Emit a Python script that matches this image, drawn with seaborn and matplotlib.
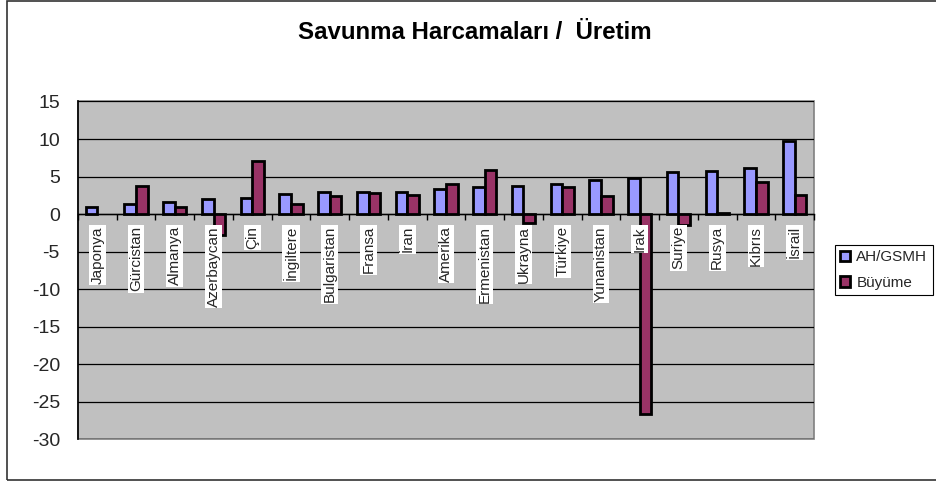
import numpy as np
import pandas as pd
import matplotlib
matplotlib.use("Agg")
import matplotlib.pyplot as plt
import seaborn as sns
from matplotlib.patches import Rectangle
from matplotlib.transforms import offset_copy

countries = ["Japonya", "Gürcistan", "Almanya", "Azerbaycan", "Çin", "İngiltere",
             "Bulgaristan", "Fransa", "İran", "Amerika", "Ermenistan", "Ukrayna",
             "Türkiye", "Yunanistan", "Irak", "Suriye", "Rusya", "Kıbrıs", "İsrail"]
ah_gsmh = [1.0, 1.4, 1.6, 1.95, 2.2, 2.65, 3.0, 3.0, 3.0, 3.33, 3.55, 3.7,
           4.0, 4.58, 4.85, 5.6, 5.8, 6.1, 9.7]
buyume = [np.nan, 3.7, 1.0, -2.8, 7.05, 1.4, 2.45, 2.85, 2.6, 4.0, 5.9, -1.2,
          3.65, 2.45, -26.6, -1.5, 0.1, 4.25, 2.55]
series_names = ["AH/GSMH", "Büyüme"]
yticks = [15, 10, 5, 0, -5, -10, -15, -20, -25, -30]
title = "Savunma Harcamaları /  Üretim"

df = pd.DataFrame({
    "Ülke": countries * 2,
    "Değer": ah_gsmh + buyume,
    "Seri": [series_names[0]] * len(countries) + [series_names[1]] * len(countries),
})

sns.set_style("white")
plt.rcParams["font.family"] = ["Liberation Sans", "DejaVu Sans"]

fig = plt.figure(figsize=(9.36, 4.82), dpi=100)
ax = fig.add_axes([78 / 936, 1 - 439.3 / 482, (814 - 78) / 936, (439.3 - 101.5) / 482])

sns.barplot(data=df, x="Ülke", y="Değer", hue="Seri", order=countries,
            hue_order=series_names, palette=["#9999FF", "#993366"],
            width=0.6, edgecolor="black", linewidth=2.0, saturation=1,
            ax=ax, legend=True, zorder=3)

ax.set_facecolor("#C0C0C0")
ax.set_xlim(-0.5, len(countries) - 0.5)
ax.set_ylim(-30, 15)
ax.set_yticks(yticks)
ax.set_yticklabels([str(v) for v in yticks], fontsize=14)
ax.tick_params(axis="y", direction="out", length=6, width=1, color="black", pad=7)
ax.yaxis.grid(True, color="black", linewidth=0.9)
ax.set_axisbelow(True)
ax.set_xlabel("")
ax.set_ylabel("")

# x axis on the zero line with boundary ticks
for s in ["top", "right"]:
    ax.spines[s].set_visible(False)
ax.spines["bottom"].set_position(("data", 0))
ax.spines["bottom"].set_color("black")
ax.spines["bottom"].set_linewidth(1.0)
ax.spines["left"].set_color("black")
ax.spines["left"].set_linewidth(1.2)
ax.set_xticks(np.arange(-0.5, len(countries) + 0.5, 1.0))
ax.set_xticklabels([])
ax.tick_params(axis="x", direction="out", length=4, width=1, color="black", bottom=True)

# plot area border
ax.add_patch(Rectangle((0, 0), 1, 1, transform=ax.transAxes, fill=False,
                       edgecolor="#808080", linewidth=1.2, zorder=0.5, clip_on=False))

# category labels
lab_tr = offset_copy(ax.transData, fig=fig, x=0, y=-12, units="dots")
for i, name in enumerate(countries):
    ax.text(i, 0, name, rotation=90, ha="center", va="top", fontsize=11,
            transform=lab_tr, zorder=4,
            bbox=dict(facecolor="white", edgecolor="none", pad=1.0))

# legend
handles, labels = ax.get_legend_handles_labels()
ax.legend(handles, labels, loc="upper left", bbox_to_anchor=(835 / 936, 1 - 245 / 482),
          bbox_transform=fig.transFigure, fontsize=11, frameon=True, fancybox=False,
          edgecolor="black", framealpha=1, borderpad=0.35, labelspacing=0.75,
          handlelength=0.65, handleheight=0.65, handletextpad=0.4, borderaxespad=0)
ax.get_legend().get_frame().set_linewidth(0.8)

# title
fig.text(475 / 936, 1 - 39.3 / 482, title, ha="center", va="baseline",
         fontsize=17.3, fontweight="bold", color="black")

# outer chart border
fig.patches.append(Rectangle((7.5 / 936, 2.5 / 482), 1.0, 1.0 - 2.5 / 482 - 0.5 / 482,
                             transform=fig.transFigure, fill=False,
                             edgecolor="#333333", linewidth=1.2, figure=fig))

fig.savefig("out.png", dpi=100)
